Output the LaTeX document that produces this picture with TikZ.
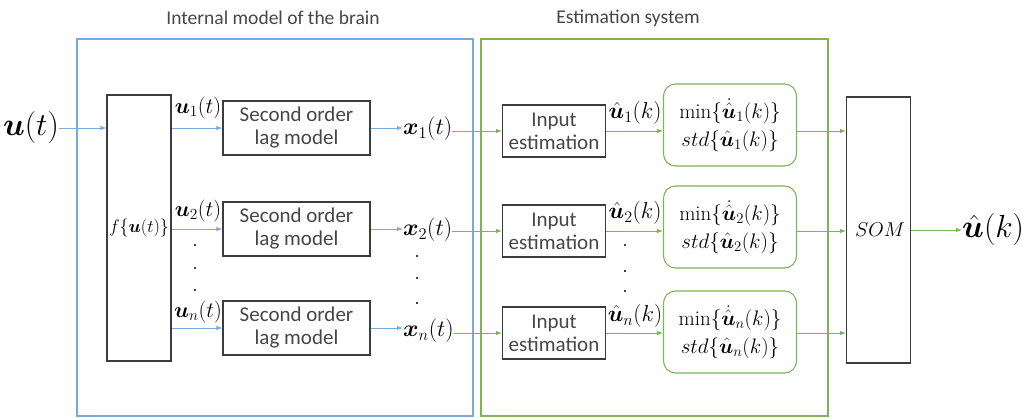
\RequirePackage{fix-cm}
\documentclass[tikz,border=0pt]{standalone}
\usepackage{amsmath,bm}
\usepackage{fontspec}
\newfontfamily\sansf{Carlito}
\usetikzlibrary{arrows.meta}
\definecolor{bluec}{RGB}{120,170,220}
\definecolor{greenc}{RGB}{125,180,85}
\definecolor{boxgray}{RGB}{60,60,60}
\definecolor{txtgray}{RGB}{70,70,70}
\begin{document}
\begin{tikzpicture}[x=1pt,y=-1pt,
  every node/.style={inner sep=0pt},
  tip/.style={-{Latex[length=6pt,width=4.5pt]}},
  barrow/.style={tip, draw=bluec, line width=0.9pt},
  garrow/.style={tip, draw=greenc, line width=0.9pt},
  blk/.style={draw=boxgray, line width=1.1pt, fill=white, align=center, text=txtgray,
    font=\sansf\fontsize{21}{23}\selectfont},
  lagbox/.style={blk, minimum width=147pt, minimum height=54pt},
  estbox/.style={blk, minimum width=103pt, minimum height=52pt},
  tallbox/.style={draw=boxgray, line width=1.1pt, minimum width=64pt, minimum height=266pt},
  rbox/.style={draw=greenc, line width=1.1pt, rounded corners=12pt, minimum width=133pt,
    minimum height=82pt, align=center, font=\fontsize{21}{28}\selectfont},
  mlab/.style={font=\fontsize{22}{24}\selectfont},
  title/.style={font=\sansf\fontsize{19.5}{22}\selectfont, text=txtgray},
  dotc/.style={fill=black, circle, minimum size=2.2pt}
]
\useasboundingbox (0,0) rectangle (1022,419);
% frames
\draw[draw=bluec, line width=1.5pt] (77,39) rectangle (473,416);
\draw[draw=greenc, line width=1.5pt] (481,39) rectangle (828,416);
\node[title] (t1) at (273,18) {Internal model of the brain};
\node[title] (t2) at (628,18) {Estimation system};

% input
\node[font=\fontsize{32}{36}\selectfont] (u) at (31,128) {$\bm{u}(t)$};
\node[tallbox] (f) at (139,228) {};
\node[font=\fontsize{18}{20}\selectfont] (fl) at (139,228) {$f\{\bm{u}(t)\}$};
\draw[barrow] (u.east) -- (u.east -| f.west);

% lag boxes
\node[lagbox] (l1) at (296.5,128) {Second order\\lag model};
\node[lagbox] (l2) at (296.5,229) {Second order\\lag model};
\node[lagbox] (l3) at (296.5,328) {Second order\\lag model};
\draw[barrow] (l1.west -| f.east) -- (l1.west);
\draw[barrow] (l2.west -| f.east) -- (l2.west);
\draw[barrow] (l3.west -| f.east) -- (l3.west);
\node[mlab] (u1) at (198,108) {$\bm{u}_1(t)$};
\node[mlab] (u2) at (198,211) {$\bm{u}_2(t)$};
\node[mlab] (un) at (198,312) {$\bm{u}_n(t)$};
\node[dotc] (d1) at (195,245) {};
\node[dotc] (d2) at (195,268) {};
\node[dotc] (d3) at (195,290) {};

% x labels
\node[font=\fontsize{23.5}{26}\selectfont, anchor=west] (x1) at (403,129) {$\bm{x}_1(t)$};
\node[font=\fontsize{23.5}{26}\selectfont, anchor=west] (x2) at (403,230) {$\bm{x}_2(t)$};
\node[font=\fontsize{23.5}{26}\selectfont, anchor=west] (xn) at (403,331) {$\bm{x}_n(t)$};
\draw[barrow] (l1.east) -- (x1.west |- l1.east);
\draw[barrow] (l2.east) -- (x2.west |- l2.east);
\draw[barrow] (l3.east) -- (xn.west |- l3.east);
\node[dotc] (e1) at (417,256) {};
\node[dotc] (e2) at (417,278) {};
\node[dotc] (e3) at (417,303) {};

% estimation boxes
\node[estbox] (i1) at (554,131) {Input\\estimation};
\node[estbox] (i2) at (554,231) {Input\\estimation};
\node[estbox] (i3) at (554,333) {Input\\estimation};
\draw[garrow] (x1.east |- i1.west) -- (i1.west);
\draw[garrow] (x2.east |- i2.west) -- (i2.west);
\draw[garrow] (xn.east |- i3.west) -- (i3.west);

% rounded boxes
\node[rbox] (r1) at (730,125) {$\min\{\dot{\hat{\bm{u}}}_1(k)\}$\\$std\{\hat{\bm{u}}_1(k)\}$};
\node[rbox] (r2) at (730,227) {$\min\{\dot{\hat{\bm{u}}}_2(k)\}$\\$std\{\hat{\bm{u}}_2(k)\}$};
\node[rbox] (r3) at (730,332) {$\min\{\dot{\hat{\bm{u}}}_n(k)\}$\\$std\{\hat{\bm{u}}_n(k)\}$};
\draw[garrow] (i1.east) -- (r1.west |- i1.east);
\draw[garrow] (i2.east) -- (r2.west |- i2.east);
\draw[garrow] (i3.east) -- (r3.west |- i3.east);
\node[font=\fontsize{23}{25}\selectfont] (h1) at (635,113) {$\hat{\bm{u}}_1(k)$};
\node[font=\fontsize{23}{25}\selectfont] (h2) at (635,213) {$\hat{\bm{u}}_2(k)$};
\node[font=\fontsize{23}{25}\selectfont] (hn) at (635,316) {$\hat{\bm{u}}_n(k)$};
\node[dotc] (g1) at (625,245) {};
\node[dotc] (g2) at (625,271) {};
\node[dotc] (g3) at (625,291) {};

% SOM
\node[tallbox] (s) at (878.5,230) {};
\node[font=\fontsize{20}{22}\selectfont] (sl) at (880,230) {$SOM$};
\draw[garrow] (r1.east |- i1.east) -- (s.west |- i1.east);
\draw[garrow] (r2.east |- i2.east) -- (s.west |- i2.east);
\draw[garrow] (r3.east |- i3.east) -- (s.west |- i3.east);
\node[font=\fontsize{32}{36}\selectfont, anchor=west] (out) at (962,230) {$\hat{\bm{u}}(k)$};
\draw[garrow] (s.east |- out.west) -- (out.west);
\end{tikzpicture}
\end{document}
